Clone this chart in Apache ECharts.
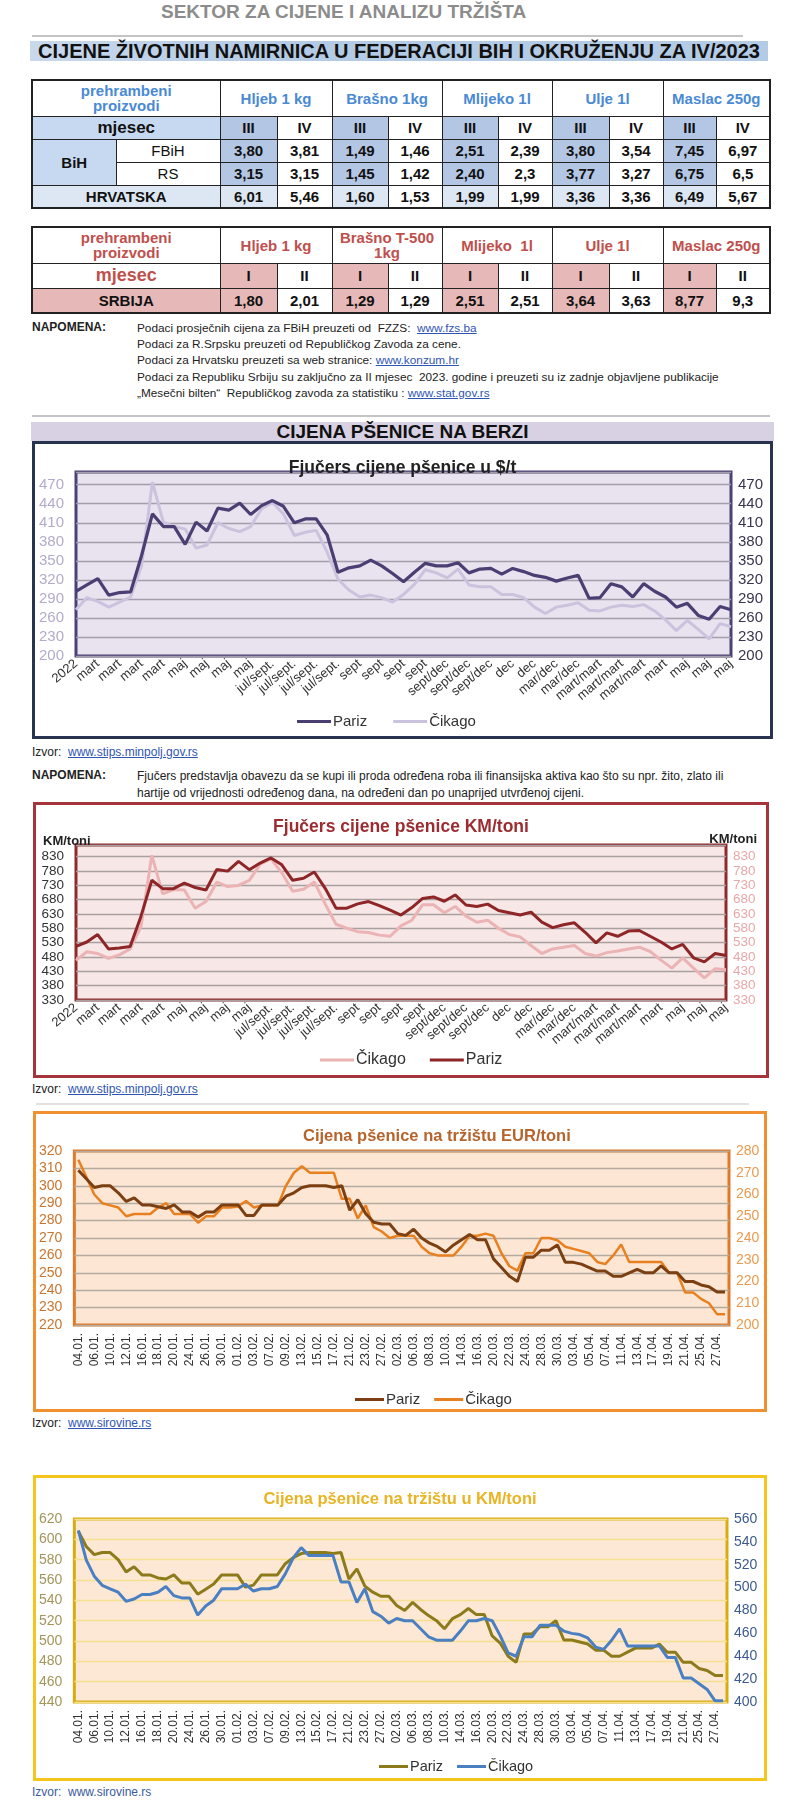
<!DOCTYPE html>
<html><head><meta charset="utf-8">
<script src="https://cdn.jsdelivr.net/npm/echarts@6/dist/echarts.min.js"></script>
<style>
html,body{margin:0;padding:0;background:#fff;}
#page{position:relative;width:800px;height:1805px;overflow:hidden;font-family:'Liberation Sans',Arial,sans-serif;}
.abs{position:absolute;}
.nar{font-family:'Liberation Sans Narrow','Arial Narrow','Liberation Sans',sans-serif;}
.hline{position:absolute;height:2px;background:#c4c4c4;}
.txt{position:absolute;white-space:nowrap;color:#222;}
a{color:#2f55b4;text-decoration:underline;}
table{border-collapse:collapse;table-layout:fixed;position:absolute;font-family:'Liberation Sans Narrow','Arial Narrow','Liberation Sans',sans-serif;font-weight:bold;}
td{border:1.5px solid #222;text-align:center;padding:0;color:#111;font-size:15px;line-height:15px;}
#t1{left:31px;top:79px;width:738px;border:2px solid #222;}
#t2{left:31px;top:226px;width:738px;border:2px solid #222;}
.hb{color:#4a8ad4;font-size:15px;}
.hr{color:#c0504d;font-size:15px;}
.b1{background:#c6d9f1;}
.b2{background:#b3c6e4;}
.b3{background:#dde7f3;}
.p1{background:#e6b9b8;}
.box{position:absolute;box-sizing:border-box;}
.ch{position:absolute;left:0;top:0;}
</style></head>
<body><div id="page">

<div class="txt nar" style="left:161px;top:1px;font-size:19px;font-weight:bold;color:#8c8c8c;line-height:22px;">SEKTOR ZA CIJENE I ANALIZU TRŽIŠTA</div>
<div class="hline" style="left:32px;top:35px;width:711px;"></div>
<div class="abs nar" style="left:30px;top:41px;width:738px;height:20px;background:linear-gradient(to right,#c9d9ec,#b4cbe6 30%,#b4cbe6);text-align:center;font-size:20px;font-weight:bold;line-height:21px;color:#111;">CIJENE ŽIVOTNIH NAMIRNICA U FEDERACIJI BIH I OKRUŽENJU ZA IV/2023</div>

<table id="t1">
<colgroup><col style="width:84px"><col style="width:104px"><col style="width:57px"><col style="width:55px"><col style="width:56px"><col style="width:54px"><col style="width:56px"><col style="width:54px"><col style="width:57px"><col style="width:54px"><col style="width:53px"><col style="width:54px"></colgroup>
<tr style="height:36px"><td colspan="2" class="hb">prehrambeni<br>proizvodi</td><td colspan="2" class="hb">Hljeb 1 kg</td><td colspan="2" class="hb">Brašno 1kg</td><td colspan="2" class="hb">Mlijeko 1l</td><td colspan="2" class="hb">Ulje 1l</td><td colspan="2" class="hb">Maslac 250g</td></tr>
<tr style="height:23px"><td colspan="2" class="b1" style="font-size:17px">mjesec</td><td class="b2">III</td><td>IV</td><td class="b2">III</td><td>IV</td><td class="b2">III</td><td>IV</td><td class="b2">III</td><td>IV</td><td class="b2">III</td><td>IV</td></tr>
<tr style="height:23px"><td rowspan="2" class="b1">BiH</td><td style="font-weight:normal">FBiH</td><td class="b2">3,80</td><td>3,81</td><td class="b2">1,49</td><td>1,46</td><td class="b2">2,51</td><td>2,39</td><td class="b2">3,80</td><td>3,54</td><td class="b2">7,45</td><td>6,97</td></tr>
<tr style="height:23px"><td style="font-weight:normal">RS</td><td class="b2">3,15</td><td>3,15</td><td class="b2">1,45</td><td>1,42</td><td class="b2">2,40</td><td>2,3</td><td class="b2">3,77</td><td>3,27</td><td class="b2">6,75</td><td>6,5</td></tr>
<tr style="height:23px"><td colspan="2" class="b3">HRVATSKA</td><td class="b3">6,01</td><td>5,46</td><td class="b3">1,60</td><td>1,53</td><td class="b3">1,99</td><td>1,99</td><td class="b3">3,36</td><td>3,36</td><td class="b3">6,49</td><td>5,67</td></tr>
</table>

<table id="t2">
<colgroup><col style="width:188px"><col style="width:57px"><col style="width:55px"><col style="width:56px"><col style="width:54px"><col style="width:56px"><col style="width:54px"><col style="width:57px"><col style="width:54px"><col style="width:53px"><col style="width:54px"></colgroup>
<tr style="height:36px"><td class="hr">prehrambeni<br>proizvodi</td><td colspan="2" class="hr">Hljeb 1 kg</td><td colspan="2" class="hr">Brašno T-500<br>1kg</td><td colspan="2" class="hr">Mlijeko&nbsp; 1l</td><td colspan="2" class="hr">Ulje 1l</td><td colspan="2" class="hr">Maslac 250g</td></tr>
<tr style="height:25px"><td class="hr" style="font-size:18px">mjesec</td><td class="p1">I</td><td>II</td><td class="p1">I</td><td>II</td><td class="p1">I</td><td>II</td><td class="p1">I</td><td>II</td><td class="p1">I</td><td>II</td></tr>
<tr style="height:25px"><td class="p1">SRBIJA</td><td class="p1">1,80</td><td>2,01</td><td class="p1">1,29</td><td>1,29</td><td class="p1">2,51</td><td>2,51</td><td class="p1">3,64</td><td>3,63</td><td class="p1">8,77</td><td>9,3</td></tr>
</table>

<div class="txt nar" style="left:32px;top:320px;font-size:12px;font-weight:bold;line-height:15px;">NAPOMENA:</div>
<div class="txt nar" style="left:137px;top:320px;font-size:11.8px;line-height:16.2px;">
Podaci prosječnih cijena za FBiH preuzeti od&nbsp; FZZS:&nbsp; <a>www.fzs.ba</a><br>
Podaci za R.Srpsku preuzeti od Republičkog Zavoda za cene.<br>
Podaci za Hrvatsku preuzeti sa web stranice: <a>www.konzum.hr</a><br>
Podaci za Republiku Srbiju su zaključno za II mjesec&nbsp; 2023. godine i preuzeti su iz zadnje objavljene publikacije<br>
„Mesečni bilten“&nbsp; Republičkog zavoda za statistiku : <a>www.stat.gov.rs</a></div>
<div class="hline" style="left:32px;top:415px;width:738px;"></div>

<div class="abs nar" style="left:31px;top:422px;width:743px;height:19px;background:#d7d1e3;text-align:center;font-size:19px;font-weight:bold;line-height:20px;color:#111;">CIJENA PŠENICE NA BERZI</div>
<div class="box" style="left:32px;top:441px;width:741px;height:298px;border:3px solid #27334f;"><div id="c1" class="ch" style="width:735px;height:292px;"></div></div>
<div class="txt nar" style="left:32px;top:745px;font-size:12px;line-height:14px;">Izvor:&nbsp; <a>www.stips.minpolj.gov.rs</a></div>

<div class="txt nar" style="left:32px;top:768px;font-size:12px;font-weight:bold;line-height:15px;">NAPOMENA:</div>
<div class="txt nar" style="left:137px;top:768px;font-size:12px;line-height:17px;">Fjučers predstavlja obavezu da se kupi ili proda određena roba ili finansijska aktiva kao što su npr. žito, zlato ili<br>hartije od vrijednosti određenog dana, na određeni dan po unaprijed utvrđenoj cijeni.</div>

<div class="box" style="left:33px;top:802px;width:736px;height:276px;border:3px solid #a4353a;"><div id="c2" class="ch" style="width:730px;height:270px;"></div></div>
<div class="txt nar" style="left:32px;top:1082px;font-size:12px;line-height:14px;">Izvor:&nbsp; <a>www.stips.minpolj.gov.rs</a></div>

<div class="hline" style="left:36px;top:1103px;width:713px;background:#e2e2e2;"></div>
<div class="box" style="left:33px;top:1111px;width:734px;height:301px;border:3px solid #f0902e;"><div id="c3" class="ch" style="width:728px;height:295px;"></div></div>
<div class="txt nar" style="left:32px;top:1416px;font-size:12px;line-height:14px;">Izvor:&nbsp; <a>www.sirovine.rs</a></div>

<div class="box" style="left:33px;top:1475px;width:734px;height:306px;border:3px solid #f6c51c;"><div id="c4" class="ch" style="width:728px;height:300px;"></div></div>
<div class="txt nar" style="left:32px;top:1785px;font-size:12px;line-height:14px;color:#3a5aa0;">Izvor:&nbsp; www.sirovine.rs</div>

</div>
<script>
// ---------- Chart 1 & 2 : futures (monthly contracts) ----------
const futLabels = ['2022','mart','mart','mart','mart','maj','maj','maj','maj','jul/sept.','jul/sept.','jul/sept.','jul/sept.','sept','sept','sept','sept','sept/dec','sept/dec','sept/dec','dec','dec','mar/dec','mar/dec','mart/mart','mart/mart','mart/mart','mart','maj','maj','maj'];
const parizUSD = [302,312,322,296,300,301,358,424,404,404,376,411,397,433,430,441,423,437,445,436,410,416,416,391,332,339,342,351,342,330,317,332,346,342,342,347,331,337,338,329,338,333,327,324,318,323,327,291,292,314,309,293,314,302,293,277,283,264,258,278,273];
const cikagoUSD = [273,292,286,277,285,293,342,474,411,404,400,370,375,410,401,396,404,432,442,424,390,395,398,364,321,304,293,296,292,285,297,313,336,331,323,337,312,309,309,297,297,292,277,267,277,280,284,272,271,277,280,278,281,271,257,240,256,242,227,251,246];
const parizKMfut = [517,532,558,508,511,516,622,747,718,718,737,722,713,785,779,813,784,807,825,801,747,754,776,719,650,650,665,673,659,643,626,652,684,689,674,696,661,656,664,642,634,626,636,601,582,592,599,566,529,564,552,570,572,552,532,508,524,477,463,492,485];
const cikagoKMfut = [468,498,492,475,487,508,586,834,700,715,713,650,673,741,725,729,747,803,822,773,709,716,741,665,594,580,568,565,556,552,588,608,662,662,634,656,622,601,608,580,558,550,520,492,508,514,520,492,483,495,501,508,514,499,469,441,477,441,407,439,435];

// ---------- Chart 3 & 4 : daily market prices 2023 ----------
const dates = ['04.01.','05.01.','06.01.','09.01.','10.01.','11.01.','12.01.','13.01.','16.01.','17.01.','18.01.','19.01.','20.01.','23.01.','24.01.','25.01.','26.01.','27.01.','30.01.','31.01.','01.02.','02.02.','03.02.','06.02.','07.02.','08.02.','09.02.','10.02.','13.02.','14.02.','15.02.','16.02.','17.02.','20.02.','21.02.','22.02.','23.02.','24.02.','27.02.','28.02.','02.03.','03.03.','06.03.','07.03.','08.03.','09.03.','10.03.','13.03.','14.03.','15.03.','16.03.','17.03.','20.03.','21.03.','22.03.','23.03.','24.03.','27.03.','28.03.','29.03.','30.03.','31.03.','03.04.','04.04.','05.04.','06.04.','07.04.','10.04.','11.04.','12.04.','13.04.','14.04.','17.04.','18.04.','19.04.','20.04.','21.04.','24.04.','25.04.','26.04.','27.04.','28.04.'];
const parizEUR = [309,304,299,300,300,296,291,293,289,289, 288,287,289,285,285,282,285,285,289,289, 289,283,283,289,289,289,294,296,299,300, 300,300,299,300,286,292,284,279,278,278, 272.5,271.5,275,270,267,265,262,266,269,272, 269,269,258,253,248,245,259,259,263,263, 266,256,256,255,253,251,251,248,248,250, 252,250,250,254,250,250,245,245,243,242, 239,239];
const cikagoEUR = [276,268,260,256,255,254,250,251,251,251, 254,256,251,251,251,247,250,250,254,254, 254.5,257,254,255,255,255,264,270,273,270, 270,270,270,258,258,249,255,245,243,240, 241,241,241,236,233,232,232,232,236,241, 241,242,241,233,227,225,233,233,240,240, 239,236,235,234,233,229,228,232,237,229, 229,229,229,229,224,224,215,215,212,210, 205,205];
const parizKM = [608,593,585,587,587,580,568,573,565,565, 562,561,565,557,557,546,551,556,565,565, 565,553,555,565,565,565,576,582,586,587, 587,587,586,587,561,571,554,548,544,544, 535,530,538,531,525,520,512,522,526,532, 526,526,505,498,485,479,507,507,514,514, 520,501,501,499,497,491,491,485,485,489, 493,493,493,497,489,489,479,479,473,471, 466,466];
const cikagoKM = [550,524,510,502,499,496,488,490,494,494, 496,501,493,491,491,476,484,489,499,499, 499,503,497,499,499,501,512,526,535,528, 528,528,528,505,505,487,499,479,475,469, 473,471,471,464,457,454,454,454,462,471, 471,473,471,458,443,440,457,457,467,467, 467,462,460,459,456,448,446,454,464,449, 449,449,449,449,439,439,421,421,416,411, 401,401];

// one category per contract observation; every second one carries the printed label
const futCats = parizUSD.map((_, i) => futLabels[Math.floor(i / 2)]);

const SANS = "'Liberation Sans', Arial, sans-serif";
const NAR = "'Liberation Sans Narrow','Arial Narrow','Liberation Sans', sans-serif";

function yAx(min, max, interval, pos, color, split, size) {
  return {type:'value', min, max, interval, position:pos,
    axisLine:{show:false}, axisTick:{show:false},
    axisLabel:{showMinLabel:true, showMaxLabel: (max - min) % interval === 0, hideOverlap:false, color, fontSize:size, fontFamily:SANS, margin: pos==='left'?12:7},
    splitLine: split ? {show:true, lineStyle:{color:split, width:1.3}} : {show:false}};
}
function line(name, data, color, yi, w) {
  return {name, type:'line', data, yAxisIndex:yi, symbol:'none', smooth:false,
    lineStyle:{color, width:w}, itemStyle:{color}, emphasis:{disabled:true}};
}

const c1 = echarts.init(document.getElementById('c1'), null, {renderer:'canvas'});
c1.setOption({
  animation:false,
  title:{text:'Fjučers cijene pšenice u $/t', left:'center', top:10, textStyle:{fontFamily:SANS, fontSize:17.5, fontWeight:'bold', color:'#222'}},
  legend:{data:['Pariz','Čikago'], left:257, top:265, icon:'rect', itemWidth:34, itemHeight:3, itemGap:26, textStyle:{fontFamily:SANS, fontSize:15, color:'#333', padding:[0,0,0,-3]}},
  grid:{left:41, right:39, top:28, bottom:80, show:true, backgroundColor:'#e8e3ef', borderColor:'#4c4075', borderWidth:3},
  xAxis:{type:'category', data:futCats, boundaryGap:false, axisLine:{show:false}, axisTick:{show:false},
    axisLabel:{interval:1, rotate:40, fontSize:13, color:'#333', fontFamily:SANS, margin:6}},
  yAxis:[yAx(200,490,30,'left','#b3abcb','#a39dac',15), yAx(200,490,30,'right','#3a3550',null,15)],
  series:[line('Čikago', cikagoUSD, '#cbc3de', 0, 3), line('Pariz', parizUSD, '#4a3e73', 1, 3.2)]
});

const c2 = echarts.init(document.getElementById('c2'), null, {renderer:'canvas'});
c2.setOption({
  animation:false,
  title:[{text:'Fjučers cijene pšenice KM/toni', left:'center', top:8, textStyle:{fontFamily:NAR, fontSize:17.5, fontWeight:'bold', color:'#9c2c30'}},
         {text:'KM/toni', left:2, top:25, textStyle:{fontFamily:NAR, fontSize:13, fontWeight:'bold', color:'#222'}},
         {text:'KM/toni', right:4, top:23, textStyle:{fontFamily:NAR, fontSize:13, fontWeight:'bold', color:'#222'}}],
  legend:{data:['Čikago','Pariz'], left:279, top:242, icon:'rect', itemWidth:34, itemHeight:3, itemGap:24, textStyle:{fontFamily:SANS, fontSize:16, color:'#333', padding:[0,0,0,-3]}},
  grid:{left:40, right:40, top:40, bottom:75, show:true, backgroundColor:'#f8e7e7', borderColor:'#8e2a2c', borderWidth:3},
  xAxis:{type:'category', data:futCats, boundaryGap:false, axisLine:{show:false}, axisTick:{show:false},
    axisLabel:{interval:1, rotate:40, fontSize:13, color:'#333', fontFamily:SANS, margin:6}},
  yAxis:[yAx(330,870,50,'left','#333','#a8a0a0',13.5), yAx(330,870,50,'right','#e9a7a7',null,13.5)],
  series:[line('Čikago', cikagoKMfut, '#ebb3b3', 1, 3), line('Pariz', parizKMfut, '#8e2527', 0, 3)]
});

const c3 = echarts.init(document.getElementById('c3'), null, {renderer:'canvas'});
c3.setOption({
  animation:false,
  title:{text:'Cijena pšenice na tržištu EUR/toni', left:262, top:9, textStyle:{fontFamily:NAR, fontSize:16.5, fontWeight:'bold', color:'#b5642c'}},
  legend:{data:['Pariz','Čikago'], left:314, top:273, icon:'rect', itemWidth:29, itemHeight:3, itemGap:14, textStyle:{fontFamily:NAR, fontSize:15, color:'#333', padding:[0,0,0,-3]}},
  grid:{left:31, right:35, top:37, bottom:84, show:true, backgroundColor:'#fde7d4', borderColor:'#e07a2a', borderWidth:3},
  xAxis:{type:'category', data:dates, boundaryGap:true, axisLine:{show:false}, axisTick:{show:false},
    axisLabel:{interval:1, rotate:90, fontSize:12, color:'#333', fontFamily:SANS, margin:8}},
  yAxis:[yAx(220,320,10,'left','#c9752f','#b5aaa0',14), yAx(200,280,10,'right','#e99a4e',null,14)],
  series:[line('Čikago', cikagoEUR, '#e9801f', 1, 2.5), line('Pariz', parizEUR, '#7c3f12', 0, 3)]
});

const c4 = echarts.init(document.getElementById('c4'), null, {renderer:'canvas'});
c4.setOption({
  animation:false,
  title:{text:'Cijena pšenice na tržištu u KM/toni', left:'center', top:8, textStyle:{fontFamily:NAR, fontSize:16.5, fontWeight:'bold', color:'#e8b424'}},
  legend:{data:['Pariz','Čikago'], left:338, top:276, icon:'rect', itemWidth:29, itemHeight:3, itemGap:14, textStyle:{fontFamily:NAR, fontSize:14.5, color:'#333', padding:[0,0,0,-3]}},
  grid:{left:32, right:37, top:41, bottom:76, show:true, backgroundColor:'#fde8d5', borderColor:'#d8ac10', borderWidth:3},
  xAxis:{type:'category', data:dates, boundaryGap:true, axisLine:{show:false}, axisTick:{show:false},
    axisLabel:{interval:1, rotate:90, fontSize:12, color:'#333', fontFamily:SANS, margin:8}},
  yAxis:[yAx(440,620,20,'left','#a3955a','#f6df90',14), yAx(400,560,20,'right','#3d5b8e',null,14)],
  series:[line('Pariz', parizKM, '#8c7a1b', 0, 3), line('Čikago', cikagoKM, '#4a7fc1', 1, 3)]
});
</script>
</body></html>
